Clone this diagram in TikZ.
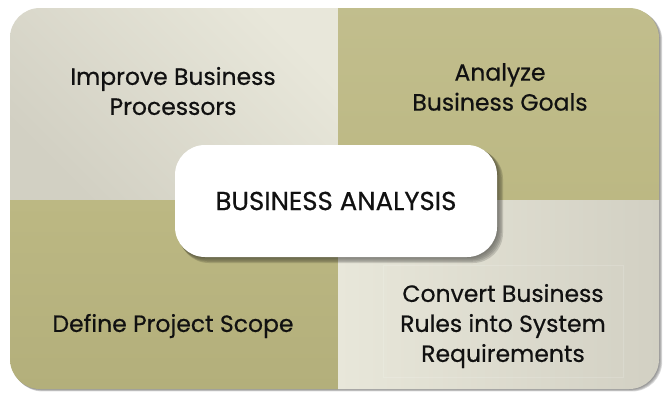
\documentclass[tikz,border=0pt]{standalone}
\usepackage{fontspec}
\setmainfont{Poppins}[FakeBold=0.5]
\definecolor{olive}{HTML}{BCB883}
\definecolor{oliveD}{HTML}{B3AF7B}
\definecolor{greyL}{HTML}{E8E7DA}
\definecolor{greyD}{HTML}{D2D0C3}
\definecolor{txt}{HTML}{111111}
\tikzset{
  label/.style={font=\fontsize{23.5}{30}\selectfont, text=txt, align=center, inner sep=0pt},
  ctlabel/.style={font=\fontsize{26}{30}\selectfont, text=txt, align=center, inner sep=0pt},
  centerbox/.style={rounded corners=30pt, fill=white},
}
\begin{document}
\begin{tikzpicture}[x=1pt,y=-1pt]
\useasboundingbox (0,0) rectangle (663,392);
\fill[white] (0,0) rectangle (663,392);
% outer shadow
\foreach \i/\o in {1/0.10,2/0.10,3/0.12,4/0.15}{
  \fill[black,opacity=\o,rounded corners=30pt] (10+\i*0.6,8+\i*0.6) rectangle (659+\i*0.8,389+\i*0.6);
}
\begin{scope}
  \clip[rounded corners=30pt] (10,8) rectangle (659,389);
  \shade[left color=greyD, right color=greyL, shading angle=135] (10,8) rectangle (338,200);
  \shade[top color=olive!92!white, bottom color=olive] (338,8) rectangle (659,200);
  \shade[top color=olive, bottom color=oliveD] (10,200) rectangle (338,389);
  \shade[left color=greyL, right color=greyD] (338,200) rectangle (659,389);
  \draw[white,opacity=0.15] (383,265) rectangle (623,377);
\end{scope}
% centre box shadow
\foreach \i/\o in {1/0.08,2/0.08,3/0.10,4/0.12,5/0.14}{
  \fill[black,opacity=\o,rounded corners=30pt] (175+\i*0.8,145+\i*0.8) rectangle (497+\i*1.2,257+\i*1.2);
}
\node[centerbox, minimum width=322pt, minimum height=112pt, inner sep=0pt] (c) at (336,201) {};
\node[ctlabel] (ct) at (c.center) {BUSINESS ANALYSIS};
\node[label] (tl) at (173,91) {Improve Business\\Processors};
\node[label] (tr) at (500,87) {Analyze\\Business Goals};
\node[label] (bl) at (173,326) {Define Project Scope};
\node[label] (br) at (503,326) {Convert Business\\Rules into System\\Requirements};
\end{tikzpicture}
\end{document}
